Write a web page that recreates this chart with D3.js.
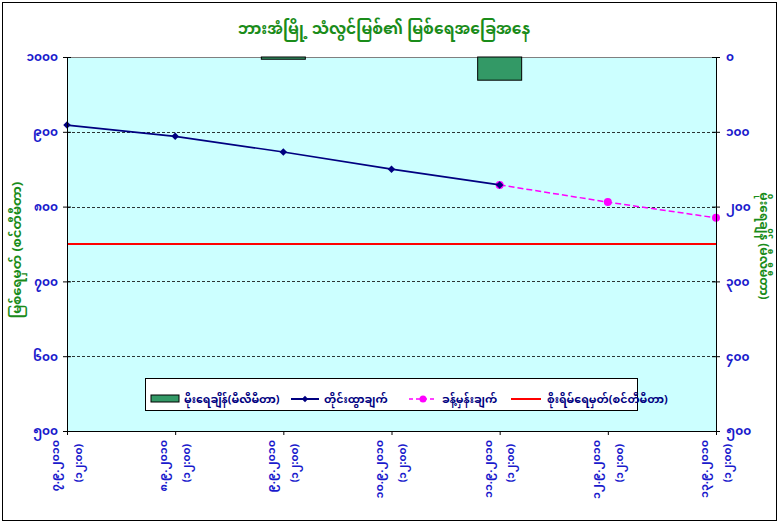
<!DOCTYPE html>
<html>
<head>
<meta charset="utf-8">
<script src="https://cdn.jsdelivr.net/npm/d3@7"></script>
<style>
  body { margin: 0; background: #fff; }
  text { font-family: "Noto Sans Myanmar", "Padauk", "Myanmar Text", "Noto Sans", sans-serif; }
</style>
</head>
<body>
<div id="chart"></div>
<script>
// chart values
var title = "ဘားအံမြို့ သံလွင်မြစ်၏ မြစ်ရေအခြေအနေ";
var dates = ["၇.၉.၂၀၁၀", "၈.၉.၂၀၁၀", "၉.၉.၂၀၁၀", "၁၀.၉.၂၀၁၀", "၁၁.၉.၂၀၁၀", "၁၂.၉.၂၀၁၀", "၁၃.၉.၂၀၁၀"];
var timeLabel = "(၁၂:၀၀)";
var rainfall = [0, 0, 3, 0, 31, 0, 0];             // mm, right axis (reversed)
var observed = [909, 894, 873, 850, 829];           // cm, left axis
var forecast = [null, null, null, null, 829, 806, 785];
var dangerLevel = 750;
var leftTicks = [1000, 900, 800, 700, 600, 500];
var rightTicks = [0, 100, 200, 300, 400, 500];
var legendNames = ["မိုးရေချိန်(မီလီမီတာ)", "တိုင်းထွာချက်", "ခန့်မှန်းချက်", "စိုးရိမ်ရေမှတ်(စင်တီမီတာ)"];
var leftTitle = "မြစ်ရေမှတ် (စင်တီမီတာ)";
var rightTitle = "မိုးရေချိန် (မီလီမီတာ)";

// western digits -> myanmar digits
function mm(n) {
    return String(n).replace(/[0-9]/g, function(c) { return String.fromCharCode(0x1040 + (+c)); });
}

var width = 780, height = 524;
var m = {left: 67, right: 64, top: 57, bottom: 93};
var pw = width - m.left - m.right, ph = height - m.top - m.bottom;

var svg = d3.select("#chart").append("svg")
    .attr("width", width).attr("height", height);

// outer frame
svg.append("rect").attr("x", 2.5).attr("y", 2.5).attr("width", 774).attr("height", 518)
    .attr("fill", "#fff").attr("stroke", "#000");

var g = svg.append("g").attr("transform", "translate(" + m.left + "," + m.top + ")");

var x = d3.scalePoint().domain(d3.range(dates.length)).range([0, pw]);
var y = d3.scaleLinear().domain([500, 1000]).range([ph, 0]);
var y2 = d3.scaleLinear().domain([0, 500]).range([0, ph]);

g.append("rect").attr("width", pw).attr("height", ph).attr("fill", "#ccffff");

// dashed grid
g.selectAll(".grid").data(leftTicks.slice(1, 5)).enter().append("line")
    .attr("x1", 0).attr("x2", pw)
    .attr("y1", function(d) { return Math.round(y(d)) + 0.5; })
    .attr("y2", function(d) { return Math.round(y(d)) + 0.5; })
    .attr("stroke", "#000").attr("stroke-dasharray", "3,2").attr("stroke-width", 0.8);

// top border
g.append("line").attr("x1", 0).attr("x2", pw).attr("y1", 0.5).attr("y2", 0.5).attr("stroke", "#808080");

// rainfall bars
var bw = 44;
g.selectAll(".bar").data(rainfall).enter().filter(function(d) { return d > 0; })
    .append("rect")
    .attr("x", function(d) { return x(rainfall.indexOf(d)) - bw / 2; })
    .attr("y", 0)
    .attr("width", bw)
    .attr("height", function(d) { return y2(d); })
    .attr("fill", "#339966").attr("stroke", "#000");

// danger level
g.append("line").attr("x1", 0).attr("x2", pw)
    .attr("y1", y(dangerLevel)).attr("y2", y(dangerLevel))
    .attr("stroke", "#ff0000").attr("stroke-width", 2);

// forecast line
var fc = forecast.map(function(d, i) { return {i: i, v: d}; }).filter(function(d) { return d.v != null; });
g.append("path").datum(fc)
    .attr("fill", "none").attr("stroke", "#ff00ff").attr("stroke-width", 1.5)
    .attr("stroke-dasharray", "6,3")
    .attr("d", d3.line().x(function(d) { return x(d.i); }).y(function(d) { return y(d.v); }));
g.selectAll(".fdot").data(fc).enter().append("circle")
    .attr("cx", function(d) { return x(d.i); }).attr("cy", function(d) { return y(d.v); })
    .attr("r", 4).attr("fill", "#ff00ff");

// observed line
var diamond = d3.symbol().type(d3.symbolSquare).size(28);
g.append("path").datum(observed)
    .attr("fill", "none").attr("stroke", "#000080").attr("stroke-width", 1.7)
    .attr("d", d3.line().x(function(d, i) { return x(i); }).y(function(d) { return y(d); }));
g.selectAll(".odot").data(observed).enter().append("path")
    .attr("d", diamond)
    .attr("transform", function(d, i) { return "translate(" + x(i) + "," + y(d) + ") rotate(45)"; })
    .attr("fill", "#000080");

// axes
var blue = "#1a1acc";
var la = g.append("g").call(d3.axisLeft(y).tickValues(leftTicks).tickFormat(mm).tickSize(4));
var ra = g.append("g").attr("transform", "translate(" + pw + ",0)")
    .call(d3.axisRight(y2).tickValues(rightTicks).tickFormat(mm).tickSize(4));
var ba = g.append("g").attr("transform", "translate(0," + ph + ")")
    .call(d3.axisBottom(x).tickSize(4).tickFormat(""));
[la, ra, ba].forEach(function(a) {
    a.select(".domain").attr("stroke", "#000");
    a.selectAll(".tick line").attr("stroke", "#000");
    a.selectAll(".tick text").attr("fill", blue).attr("font-size", 12).attr("font-weight", "bold");
});
la.selectAll(".tick line").attr("x2", -4).attr("x1", 4);
ra.selectAll(".tick line").attr("x1", -4);
la.selectAll(".tick text").attr("x", -9);
ra.selectAll(".tick text").attr("x", 10);

// rotated date labels: date column left of the tick, time column right of it
dates.forEach(function(d, i) {
    g.append("text")
        .attr("transform", "translate(" + (x(i) - 12) + "," + (ph + 9) + ") rotate(-90)")
        .attr("text-anchor", "end").attr("dy", "0.35em").attr("fill", blue)
        .attr("font-size", 11).attr("font-weight", "bold").text(d);
    g.append("text")
        .attr("transform", "translate(" + (x(i) + 11) + "," + (ph + 13) + ") rotate(-90)")
        .attr("text-anchor", "end").attr("dy", "0.35em").attr("fill", blue)
        .attr("font-size", 10.5).attr("font-weight", "bold").text(timeLabel);
});

// titles
svg.append("text").attr("x", 384).attr("y", 34).attr("text-anchor", "middle")
    .attr("fill", "#1a8c1a").attr("font-size", 15.5).attr("font-weight", "bold").text(title);
svg.append("text").attr("transform", "translate(21," + (m.top + ph / 2 + 6) + ") rotate(-90)")
    .attr("text-anchor", "middle").attr("fill", "#1a8c1a")
    .attr("font-size", 13).attr("font-weight", "bold").text(leftTitle);
svg.append("text").attr("transform", "translate(760,246) rotate(90)")
    .attr("text-anchor", "middle").attr("fill", "#1a8c1a")
    .attr("font-size", 12).attr("font-weight", "bold").text(rightTitle);

// legend
var lg = svg.append("g").attr("transform", "translate(145,378)");
lg.append("rect").attr("x", 0.5).attr("y", 0.5).attr("width", 492).attr("height", 32)
    .attr("fill", "#fff").attr("stroke", "#000");
var lx = [6, 146, 264, 366];
lx.forEach(function(px, i) {
    var item = lg.append("g").attr("transform", "translate(" + px + ",21)");
    if (i === 0) {
        item.append("rect").attr("x", 0).attr("y", -4).attr("width", 28).attr("height", 7)
            .attr("fill", "#339966").attr("stroke", "#000");
    } else if (i === 1) {
        item.append("line").attr("x1", 0).attr("x2", 28).attr("stroke", "#000080").attr("stroke-width", 2);
        item.append("path").attr("d", d3.symbol().type(d3.symbolSquare).size(20))
            .attr("transform", "translate(14,0) rotate(45)").attr("fill", "#000080");
    } else if (i === 2) {
        item.append("line").attr("x1", 0).attr("x2", 28).attr("stroke", "#ff00ff")
            .attr("stroke-width", 1.5).attr("stroke-dasharray", "4,3");
        item.append("circle").attr("cx", 14).attr("r", 3.5).attr("fill", "#ff00ff");
    } else {
        item.append("line").attr("x1", 0).attr("x2", 30).attr("stroke", "#ff0000").attr("stroke-width", 2);
    }
    item.append("text").attr("x", i === 3 ? 36 : 33).attr("y", 4)
        .attr("fill", "#000080").attr("font-size", 11).attr("font-weight", "bold")
        .text(legendNames[i]);
});
</script>
</body>
</html>
